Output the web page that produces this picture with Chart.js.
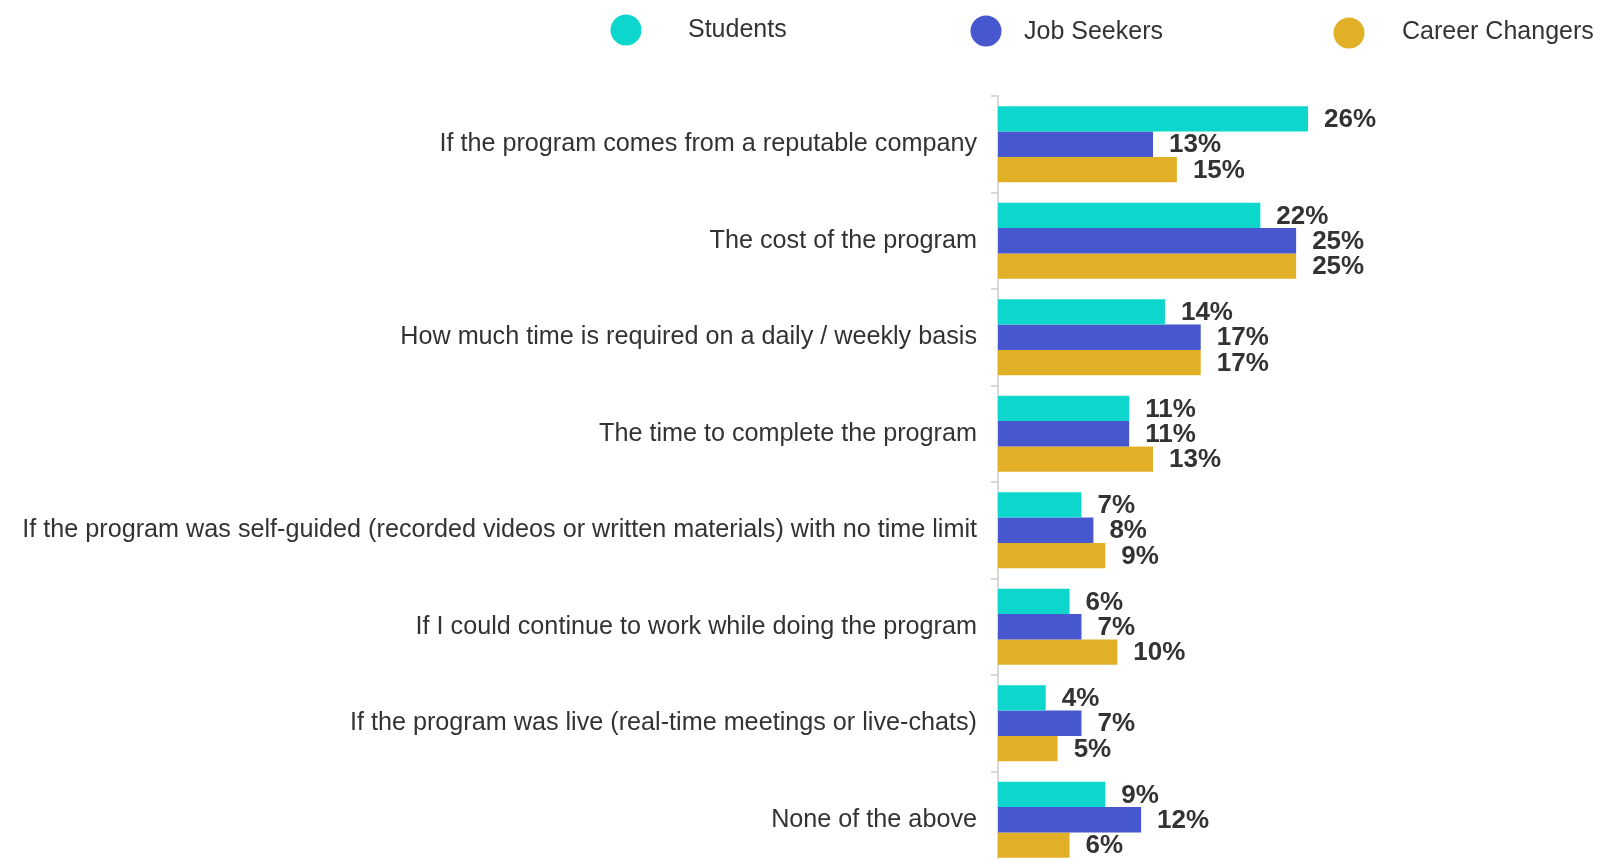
<!DOCTYPE html>
<html>
<head>
<meta charset="utf-8">
<script src="https://cdn.jsdelivr.net/npm/chart.js@4/dist/chart.umd.min.js"></script>
<style>
  html, body { margin: 0; padding: 0; background: #ffffff; overflow: hidden; }
  #wrap { width: 1600px; height: 870px; }
</style>
</head>
<body>
<div id="wrap"><canvas id="c" width="1600" height="870"></canvas></div>
<script>
// ---- Data ----
const categories = [
  "If the program comes from a reputable company",
  "The cost of the program",
  "How much time is required on a daily / weekly basis",
  "The time to complete the program",
  "If the program was self-guided (recorded videos or written materials) with no time limit",
  "If I could continue to work while doing the program",
  "If the program was live (real-time meetings or live-chats)",
  "None of the above"
];
const seriesNames = ["Students", "Job Seekers", "Career Changers"];
const students       = [26, 22, 14, 11, 7, 6, 4, 9];
const jobSeekers     = [13, 25, 17, 11, 8, 7, 7, 12];
const careerChangers = [15, 25, 17, 13, 9, 10, 5, 6];

// ---- Styles ----
const seriesColors = ["#0DD7CD", "#4757CD", "#E1B026"];
const textColor = "#333333";
const axisColor = "#D9D9D9";
const FONT = "'Liberation Sans', Arial, sans-serif";

// legend layout (x of circle center, x of text start, y)
const legendLayout = [
  { cx: 626, tx: 688, cy: 30, ty: 30 },
  { cx: 986, tx: 1024, cy: 31, ty: 32 },
  { cx: 1349, tx: 1402, cy: 33, ty: 32 }
];

const valueLabels = {
  id: 'valueLabels',
  afterDatasetsDraw(chart) {
    const ctx = chart.ctx;
    ctx.save();
    ctx.font = "bold 26px " + FONT;
    ctx.fillStyle = textColor;
    ctx.textAlign = 'left';
    ctx.textBaseline = 'middle';
    chart.data.datasets.forEach((ds, di) => {
      const meta = chart.getDatasetMeta(di);
      meta.data.forEach((bar, i) => {
        ctx.fillText(ds.data[i] + '%', bar.x + 16, bar.y + 1);
      });
    });
    ctx.restore();
  }
};

const customLegend = {
  id: 'customLegend',
  afterDraw(chart) {
    const ctx = chart.ctx;
    ctx.save();
    chart.data.datasets.forEach((ds, di) => {
      const L = legendLayout[di];
      ctx.beginPath();
      ctx.fillStyle = ds.backgroundColor;
      ctx.arc(L.cx, L.cy, 15.5, 0, Math.PI * 2);
      ctx.fill();
      ctx.font = "25px " + FONT;
      ctx.fillStyle = textColor;
      ctx.textAlign = 'left';
      ctx.textBaseline = 'middle';
      ctx.fillText(ds.label, L.tx, L.ty);
    });
    ctx.restore();
  }
};

new Chart(document.getElementById('c'), {
  type: 'bar',
  data: {
    labels: categories,
    datasets: [
      { label: seriesNames[0], data: students, backgroundColor: seriesColors[0] },
      { label: seriesNames[1], data: jobSeekers, backgroundColor: seriesColors[1] },
      { label: seriesNames[2], data: careerChangers, backgroundColor: seriesColors[2] }
    ]
  },
  options: {
    indexAxis: 'y',
    responsive: false,
    animation: false,
    devicePixelRatio: 1,
    layout: { padding: { top: 96, right: 125, bottom: 2, left: 0 } },
    datasets: { bar: { categoryPercentage: 0.79, barPercentage: 1.0, borderWidth: 0 } },
    plugins: {
      legend: { display: false },
      tooltip: { enabled: false },
      title: { display: false }
    },
    scales: {
      x: { display: false, min: 0, max: 40 },
      y: {
        afterFit(scale) { scale.width = 998; scale.paddingTop = 0; scale.paddingBottom = 0; },
        border: { display: true, color: axisColor, width: 2 },
        grid: {
          display: true,
          offset: true,
          drawOnChartArea: false,
          drawTicks: true,
          tickLength: 7,
          color: axisColor,
          lineWidth: 2
        },
        ticks: {
          color: textColor,
          padding: 14,
          font: { family: FONT, size: 25.2 }
        }
      }
    }
  },
  plugins: [valueLabels, customLegend]
});
</script>
</body>
</html>
